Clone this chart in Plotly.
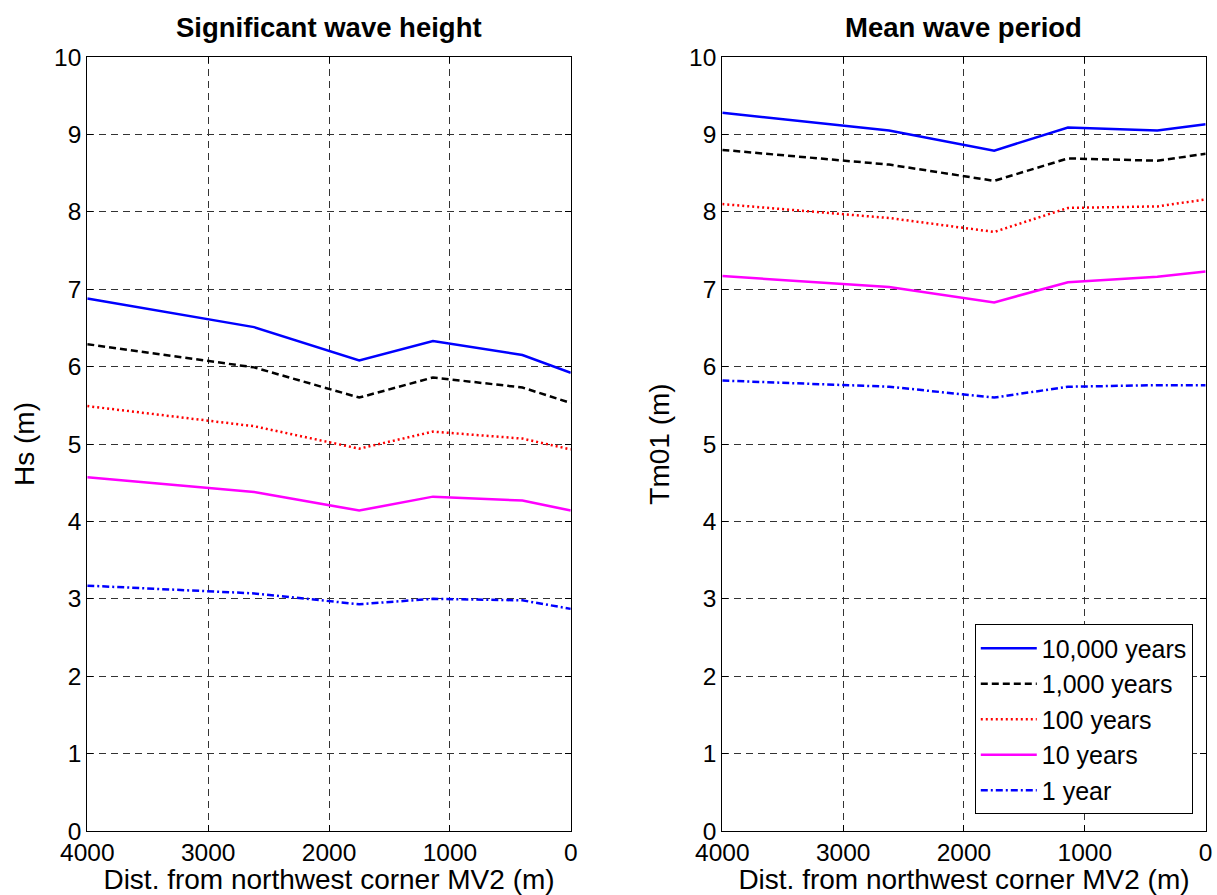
import plotly.graph_objects as go
from plotly.subplots import make_subplots

# ---- data ----
dist = [4000, 2620, 1750, 1140, 400, 0]
labels = ["10,000 years", "1,000 years", "100 years", "10 years", "1 year"]

hs_10000 = [6.88, 6.51, 6.08, 6.33, 6.15, 5.92]
hs_1000 = [6.29, 5.99, 5.60, 5.86, 5.73, 5.53]
hs_100 = [5.49, 5.23, 4.94, 5.16, 5.07, 4.93]
hs_10 = [4.57, 4.38, 4.14, 4.32, 4.27, 4.14]
hs_1 = [3.17, 3.07, 2.93, 3.00, 2.98, 2.87]

tm_10000 = [9.28, 9.05, 8.79, 9.09, 9.05, 9.13]
tm_1000 = [8.80, 8.61, 8.40, 8.69, 8.66, 8.75]
tm_100 = [8.10, 7.92, 7.74, 8.05, 8.07, 8.16]
tm_10 = [7.17, 7.03, 6.83, 7.09, 7.16, 7.23]
tm_1 = [5.82, 5.74, 5.60, 5.74, 5.76, 5.76]

x_ticks = [4000, 3000, 2000, 1000, 0]
y_ticks = list(range(0, 11))

styles = [
    dict(color="#0000ff", dash="solid", width=2.5),
    dict(color="#000000", dash="7px,4px", width=2.5),
    dict(color="#ff0000", dash="2px,3px", width=2.5),
    dict(color="#ff00ff", dash="solid", width=2.5),
    dict(color="#0000ff", dash="7px,3px,2px,3px", width=2.5),
]

FONT = "Liberation Sans, Arial, Helvetica, sans-serif"

fig = make_subplots(rows=1, cols=2)

hs_series = [hs_10000, hs_1000, hs_100, hs_10, hs_1]
tm_series = [tm_10000, tm_1000, tm_100, tm_10, tm_1]

for name, ys, st in zip(labels, hs_series, styles):
    fig.add_trace(go.Scatter(x=dist, y=ys, mode="lines", name=name, line=st,
                             showlegend=False), row=1, col=1)
for name, ys, st in zip(labels, tm_series, styles):
    fig.add_trace(go.Scatter(x=dist, y=ys, mode="lines", name=name, line=st,
                             showlegend=True), row=1, col=2)

axis_common = dict(
    showline=True, linecolor="black", linewidth=1, mirror="allticks",
    ticks="inside", ticklen=6, tickcolor="black", tickwidth=1,
    showgrid=True, gridcolor="#333333", gridwidth=1, griddash="7px,5px",
    zeroline=False, tickfont=dict(family=FONT, size=24.5, color="black"),
    automargin=False,
)

xdoms = [[0.0717, 0.4690], [0.5935, 0.9907]]
ydom = [0.0715, 0.9363]
ytitles = ["Hs (m)", "Tm01 (m)"]

for i in range(2):
    fig.update_xaxes(
        domain=xdoms[i], range=[4000, 0], tickvals=x_ticks,
        ticktext=[str(v) for v in x_ticks],
        title=dict(text="Dist. from northwest corner MV2 (m)",
                   font=dict(family=FONT, size=28, color="black"), standoff=1),
        **axis_common, row=1, col=i + 1)
    fig.update_yaxes(
        domain=ydom, range=[0, 10], tickvals=y_ticks,
        title=dict(text=ytitles[i],
                   font=dict(family=FONT, size=28, color="black"), standoff=11),
        **axis_common, row=1, col=i + 1)

titles = ["Significant wave height", "Mean wave period"]
annotations = []
for i in range(2):
    annotations.append(dict(
        text="<b>" + titles[i] + "</b>", x=(xdoms[i][0] + xdoms[i][1]) / 2,
        y=1 - 28 / 895, xref="paper", yref="paper", showarrow=False,
        xanchor="center", yanchor="middle",
        font=dict(family=FONT, size=27.5, color="black")))

fig.update_layout(
    width=1217, height=895,
    margin=dict(l=0, r=0, t=0, b=0),
    paper_bgcolor="white", plot_bgcolor="white",
    annotations=annotations,
    legend=dict(
        x=0.9801, y=0.0900, xanchor="right", yanchor="bottom",
        bgcolor="white", bordercolor="black", borderwidth=1,
        font=dict(family=FONT, size=25, color="black"),
        itemwidth=56, tracegroupgap=0,
    ),
    font=dict(family=FONT),
)

fig.write_html("out.html")
